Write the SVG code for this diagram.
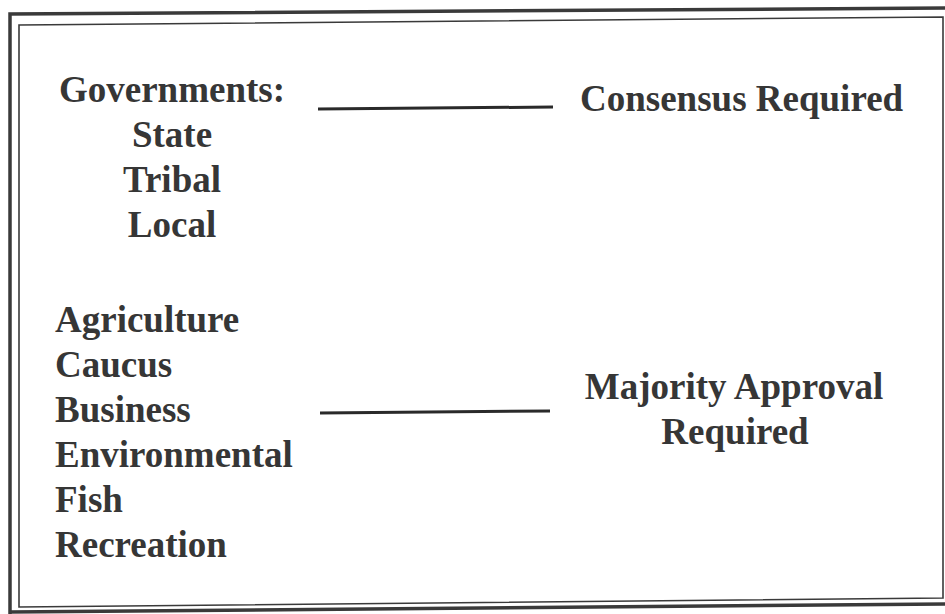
<svg xmlns="http://www.w3.org/2000/svg" width="945" height="614" viewBox="0 0 945 614">
<style>
.t{font-family:"Liberation Serif","Times New Roman",serif;font-weight:bold;font-size:37px;fill:#363636}
.c{text-anchor:middle}
.frame{fill:none;stroke:#3a3a3a}
.conn{stroke:#2a2a2a;stroke-width:3;fill:none}
</style>
<rect width="945" height="614" fill="#fff"/>
<g id="frame">
<polyline class="frame" stroke-width="3.5" points="948,8 10,14 10,614"/>
<line class="frame" stroke-width="3.5" x1="10" y1="612" x2="948" y2="604"/>
<polygon class="frame" stroke-width="1.6" points="19,25 943,17 943,598 19,607"/>
</g>
<g id="connectors">
<line class="conn" x1="318" y1="109" x2="553" y2="107"/>
<line class="conn" x1="320" y1="413" x2="550" y2="411"/>
</g>
<g id="governments">
<text class="t c" x="172" y="102">Governments:</text>
<text class="t c" x="172" y="147">State</text>
<text class="t c" x="172" y="192">Tribal</text>
<text class="t c" x="172" y="237">Local</text>
</g>
<g id="consensus">
<text class="t" x="580" y="111">Consensus Required</text>
</g>
<g id="stakeholders">
<text class="t" x="55" y="332">Agriculture</text>
<text class="t" x="55" y="377">Caucus</text>
<text class="t" x="55" y="422">Business</text>
<text class="t" x="55" y="467">Environmental</text>
<text class="t" x="55" y="512">Fish</text>
<text class="t" x="55" y="557">Recreation</text>
</g>
<g id="majority">
<text class="t c" x="734" y="399">Majority Approval</text>
<text class="t c" x="735" y="444">Required</text>
</g>
</svg>
